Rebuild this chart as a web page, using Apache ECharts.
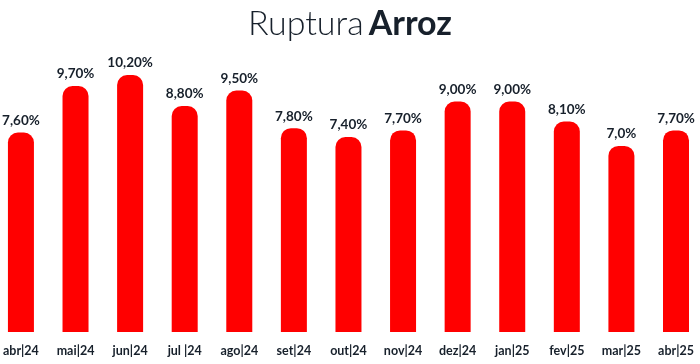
<!DOCTYPE html>
<html>
<head>
<meta charset="utf-8">
<script src="https://cdn.jsdelivr.net/npm/echarts@6/dist/echarts.min.js"></script>
<style>html,body{margin:0;padding:0;background:#fff;}#c{width:700px;height:364px;}</style>
</head>
<body>
<div id="c"></div>
<script>
var categories = ['abr|24','mai|24','jun|24','jul |24','ago|24','set|24','out|24','nov|24','dez|24','jan|25','fev|25','mar|25','abr|25'];
var values = [7.6, 9.7, 10.2, 8.8, 9.5, 7.8, 7.4, 7.7, 9.0, 9.0, 8.1, 7.0, 7.7];
var labels = ['7,60%','9,70%','10,20%','8,80%','9,50%','7,80%','7,40%','7,70%','9,00%','9,00%','8,10%','7,0%','7,70%'];

var Y_MIN = -1.4, Y_MAX = 10.2;
var chart = echarts.init(document.getElementById('c'));
chart.setOption({
  animation: false,
  backgroundColor: '#ffffff',
  title: {
    text: '{l|Ruptura} {b|Arroz}',
    left: 'center',
    top: 2,
    textStyle: {
      rich: {
        l: { fontFamily: 'Lato', fontWeight: 300, fontSize: 34, color: '#17202b' },
        b: { fontFamily: 'Lato', fontWeight: 'bold', fontSize: 34, color: '#17202b' }
      }
    }
  },
  grid: { left: 20, right: 24, top: 75, bottom: 32, containLabel: false },
  xAxis: {
    type: 'category',
    data: categories,
    boundaryGap: false,
    axisLine: { show: false },
    axisTick: { show: false },
    axisLabel: {
      interval: 0,
      margin: 12,
      fontFamily: 'Lato',
      fontWeight: 'bold',
      fontSize: 12.5,
      color: '#17202b'
    }
  },
  yAxis: {
    type: 'value',
    min: Y_MIN,
    max: Y_MAX,
    show: false,
    splitLine: { show: false }
  },
  series: [{
    type: 'custom',
    data: values.map(function (v, i) { return [i, v]; }),
    encode: { x: 0, y: 1 },
    renderItem: function (params, api) {
      var i = api.value(0);
      var top = api.coord([i, api.value(1)]);
      var bottom = api.coord([i, Y_MIN]);
      var w = 26;
      return {
        type: 'rect',
        shape: { x: top[0] - w / 2, y: top[1], width: w, height: bottom[1] - top[1], r: [10, 10, 0, 0] },
        style: { fill: '#ff0000' },
        textContent: {
          style: {
            text: labels[params.dataIndex],
            fontFamily: 'Lato',
            fontWeight: 'bold',
            fontSize: 13.5,
            fill: '#17202b'
          }
        },
        textConfig: { position: 'top', distance: 5 }
      };
    }
  }]
});
</script>
</body>
</html>
